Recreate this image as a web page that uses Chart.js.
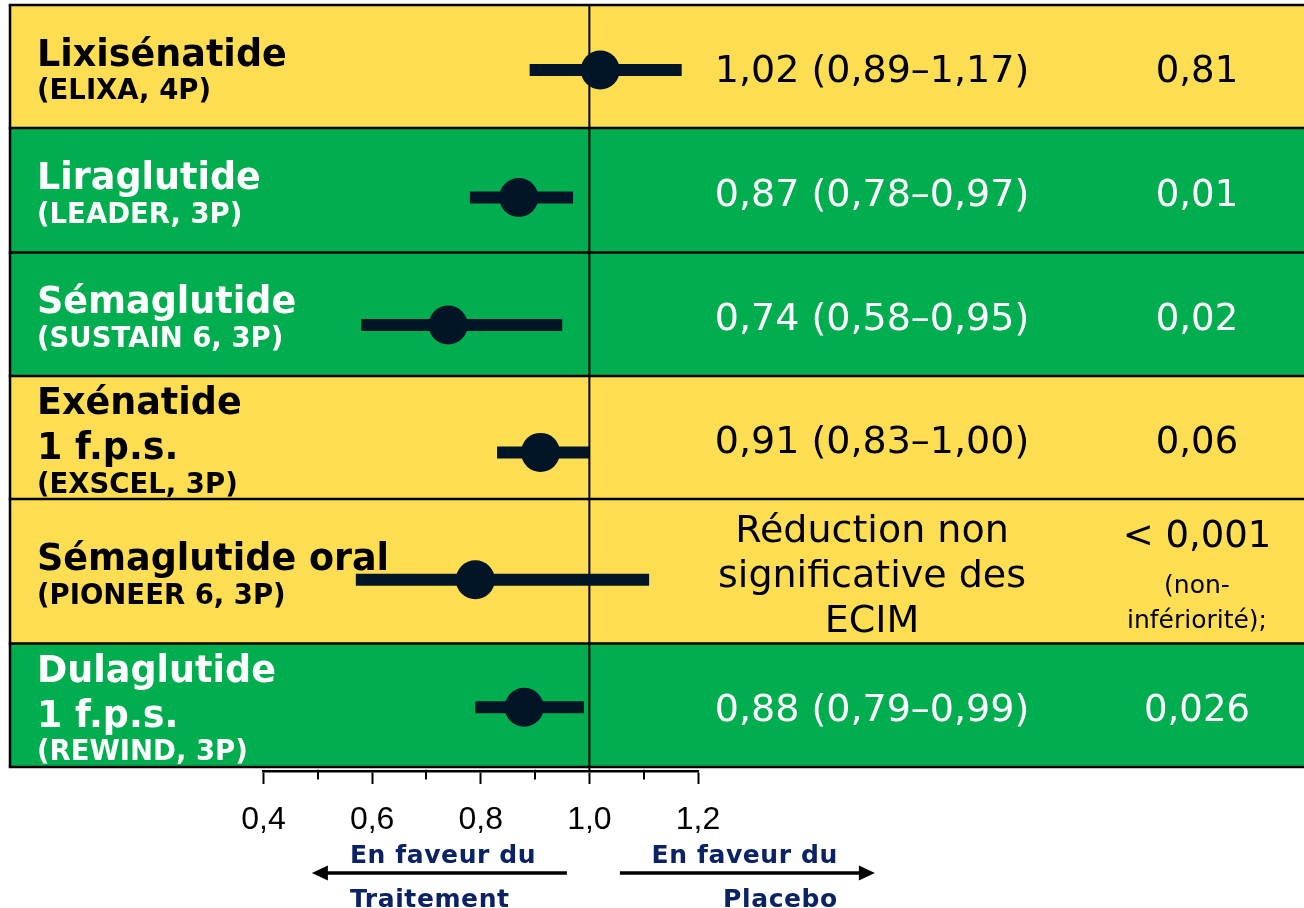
<!DOCTYPE html>
<html>
<head>
<meta charset="utf-8">
<script src="https://cdn.jsdelivr.net/npm/chart.js@4.4.1/dist/chart.umd.min.js"></script>
<style>
  html, body { margin: 0; padding: 0; background: #ffffff; }
  canvas { display: block; }
</style>
</head>
<body>
<canvas id="forest" width="1304" height="908"></canvas>
<script>
// GLP-1 receptor agonist outcome trials, one row each, top to bottom
const drugs = ['Lixisénatide', 'Liraglutide', 'Sémaglutide', 'Exénatide\n1 f.p.s.', 'Sémaglutide oral', 'Dulaglutide\n1 f.p.s.'];
const trials = ['(ELIXA, 4P)', '(LEADER, 3P)', '(SUSTAIN 6, 3P)', '(EXSCEL, 3P)', '(PIONEER 6, 3P)', '(REWIND, 3P)'];

// Hazard ratios with 95 % confidence intervals
const hazardRatio = [1.02, 0.87, 0.74, 0.91, 0.79, 0.88];
const ciLower     = [0.89, 0.78, 0.58, 0.83, 0.57, 0.79];
const ciUpper     = [1.17, 0.97, 0.95, 1.00, 1.11, 0.99];

// Wording shown instead of "HR (IC)" where the result is described in words
const resultNote = [null, null, null, null, 'Réduction non\nsignificative des\nECIM', null];
const pValues = ['0,81', '0,01', '0,02', '0,06', '< 0,001\n(non-\ninfériorité);', '0,026'];

// Hazard-ratio axis
const tickValues = [0.4, 0.5, 0.6, 0.7, 0.8, 0.9, 1.0, 1.1, 1.2];
const tickLabels = ['0,4', '', '0,6', '', '0,8', '', '1,0', '', '1,2'];
const favourLeft  = ['En faveur du', 'Traitement'];
const favourRight = ['En faveur du', 'Placebo'];

// ---- styling / table layout ----
const YELLOW = '#FDDE52';
const GREEN  = '#00AE4F';
const INK    = '#011526';
const NAVY   = '#0B2265';
const rowFill  = [YELLOW, GREEN, GREEN, YELLOW, YELLOW, GREEN];
const rowEdges = [5, 128, 252.5, 376, 499, 643.5, 767];   // table row boundaries, px
const TABLE_LEFT = 10;
const NAME_X = 37, EFFECT_X = 872, P_X = 1197;
const FONT = '"DejaVu Sans", Verdana, sans-serif';
const CAP = 0.729;

const fmt = v => v.toFixed(2).replace('.', ',');
const rowY = drugs.map((_, i) => i + 0.5);

// Draw a block of text lines, vertically centred on the row
function drawBlock(ctx, lines, x, align, centerY, color) {
  // lines: [{text, font, size, gap}] ; gap = distance from previous baseline
  let span = lines[0].size * CAP;
  for (let i = 1; i < lines.length; i++) span += lines[i].gap;
  let baseline = centerY + 2.5 - span / 2 + lines[0].size * CAP;
  ctx.fillStyle = color;
  ctx.textAlign = align;
  ctx.textBaseline = 'alphabetic';
  lines.forEach((ln, i) => {
    if (i > 0) baseline += ln.gap;
    ctx.font = ln.font;
    ctx.fillText(ln.text, x, baseline);
  });
}

const tablePlugin = {
  id: 'forestTable',
  beforeDraw(chart) {
    const ctx = chart.ctx;
    const W = chart.width;
    ctx.save();
    // row bands
    rowFill.forEach((c, i) => {
      ctx.fillStyle = c;
      ctx.fillRect(TABLE_LEFT, rowEdges[i], W - TABLE_LEFT, rowEdges[i + 1] - rowEdges[i]);
    });
    // row rules and left edge
    ctx.strokeStyle = '#000';
    ctx.lineWidth = 2.5;
    rowEdges.forEach(y => {
      ctx.beginPath();
      ctx.moveTo(TABLE_LEFT - 1.25, y);
      ctx.lineTo(W, y);
      ctx.stroke();
    });
    ctx.beginPath();
    ctx.moveTo(TABLE_LEFT, rowEdges[0]);
    ctx.lineTo(TABLE_LEFT, rowEdges[rowEdges.length - 1]);
    ctx.stroke();
    ctx.restore();
  },
  afterDraw(chart) {
    const ctx = chart.ctx;
    const x = chart.scales.x;
    ctx.save();

    // text columns
    drugs.forEach((name, i) => {
      const cy = (rowEdges[i] + rowEdges[i + 1]) / 2;
      const color = rowFill[i] === GREEN ? '#ffffff' : '#000000';

      const nameLines = name.split('\n').map((t, k) => ({
        text: t, font: `bold 36.5px ${FONT}`, size: 36.5, gap: k ? 45 : 0
      }));
      nameLines.push({ text: trials[i], font: `bold 27.5px ${FONT}`, size: 27.5, gap: 33.5 });
      drawBlock(ctx, nameLines, NAME_X, 'left', cy, color);

      const effect = resultNote[i] || `${fmt(hazardRatio[i])} (${fmt(ciLower[i])}–${fmt(ciUpper[i])})`;
      const effLines = effect.split('\n').map((t, k) => ({
        text: t, font: `38px ${FONT}`, size: 37, gap: k ? 45 : 0
      }));
      drawBlock(ctx, effLines, EFFECT_X, 'center', cy, color);

      const pLines = pValues[i].split('\n').map((t, k) => ({
        text: t,
        font: k ? `25px ${FONT}` : `37px ${FONT}`,
        size: k ? 25 : 37,
        gap: k === 0 ? 0 : (k === 1 ? 46 : 35)
      }));
      drawBlock(ctx, pLines, P_X, 'center', cy, color);
    });

    // minor tick marks (the major ones come from the axis grid)
    ctx.strokeStyle = '#000';
    ctx.lineWidth = 2;
    tickValues.forEach((v, i) => {
      if (tickLabels[i]) return;
      const px = Math.round(x.getPixelForValue(v));
      ctx.beginPath();
      ctx.moveTo(px, x.top - 1.25);
      ctx.lineTo(px, x.top + 8.5);
      ctx.stroke();
    });

    // direction arrows under the axis
    const ref = x.getPixelForValue(1.0);
    const ay = 873;
    ctx.fillStyle = '#000';
    ctx.lineWidth = 3.5;
    const arrow = (from, tip) => {
      const dir = Math.sign(tip - from);
      ctx.beginPath();
      ctx.moveTo(from, ay);
      ctx.lineTo(tip - dir * 14, ay);
      ctx.stroke();
      ctx.beginPath();
      ctx.moveTo(tip, ay);
      ctx.lineTo(tip - dir * 16, ay - 7.5);
      ctx.lineTo(tip - dir * 16, ay + 7.5);
      ctx.closePath();
      ctx.fill();
    };
    arrow(ref - 22.5, ref - 277.5);
    arrow(ref + 30.5, ref + 285.5);

    ctx.fillStyle = NAVY;
    ctx.font = `bold 25px ${FONT}`;
    ctx.letterSpacing = '0.6px';
    ctx.textBaseline = 'alphabetic';
    ctx.textAlign = 'left';
    ctx.fillText(favourLeft[0], ref - 239.5, 862.5);
    ctx.fillText(favourLeft[1], ref - 239.5, 907);
    ctx.textAlign = 'right';
    ctx.fillText(favourRight[0], ref + 248.5, 862.5);
    ctx.fillText(favourRight[1], ref + 248.5, 907);
    ctx.restore();
  }
};

const datasets = [
  {
    type: 'scatter',
    label: 'HR',
    data: hazardRatio.map((v, i) => ({ x: v, y: rowY[i] })),
    pointRadius: 19.5,
    pointHoverRadius: 19.5,
    backgroundColor: INK,
    borderWidth: 0,
    clip: false,
    order: 0
  },
  ...ciLower.map((lo, i) => ({
    type: 'line',
    label: 'IC 95 % ' + (i + 1),
    data: [{ x: lo, y: rowY[i] }, { x: ciUpper[i], y: rowY[i] }],
    borderColor: INK,
    borderWidth: 12,
    borderCapStyle: 'butt',
    pointRadius: 0,
    order: 1
  })),
  {
    type: 'line',
    label: 'HR = 1',
    data: [{ x: 1, y: -0.01 }, { x: 1, y: 6 }],
    borderColor: '#000',
    borderWidth: 2,
    pointRadius: 0,
    clip: false,
    order: 2
  }
];

new Chart(document.getElementById('forest'), {
  type: 'scatter',
  data: { datasets },
  options: {
    responsive: false,
    animation: false,
    events: [],
    layout: { autoPadding: false, padding: { left: 263.5, right: 606, top: 6.3, bottom: 0 } },
    plugins: { legend: { display: false }, tooltip: { enabled: false } },
    scales: {
      x: {
        type: 'linear',
        min: 0.4,
        max: 1.2,
        afterBuildTicks: s => { s.ticks = tickValues.map(v => ({ value: v })); },
        afterFit: s => { s.height = 137; },
        ticks: {
          autoSkip: false,
          maxRotation: 0,
          padding: 17,
          color: '#000',
          font: { family: '"Liberation Sans", Arial, sans-serif', size: 32 },
          callback: (v, i) => tickLabels[i]
        },
        grid: {
          drawOnChartArea: false,
          drawTicks: true,
          tickLength: 13,
          tickWidth: 2,
          tickColor: c => (tickLabels[c.index] ? '#000' : 'rgba(0,0,0,0)')
        },
        border: { display: true, color: '#000', width: 2.5 }
      },
      y: { type: 'linear', min: 0, max: 6, reverse: true, display: false }
    }
  },
  plugins: [tablePlugin]
});
</script>
</body>
</html>
